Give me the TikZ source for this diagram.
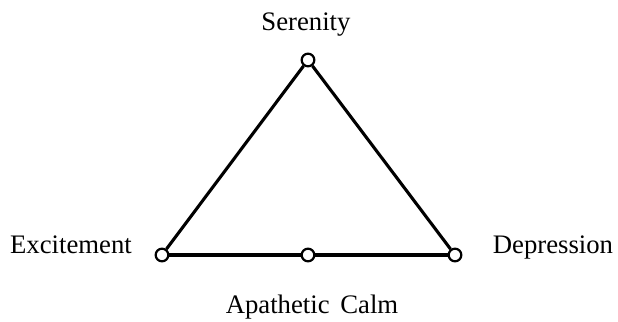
\documentclass[tikz,border=0pt]{standalone}
\usepackage{fontspec}
\setmainfont{Liberation Serif}
\usepackage{tikz}
\tikzset{
  vertex/.style={circle, draw, line width=1.6pt, fill=white, inner sep=0pt, minimum size=9pt},
  edge/.style={line width=2.2pt},
  mood/.style={anchor=base, inner sep=0pt, font=\fontsize{19}{22}\selectfont}
}

\begin{document}
\begin{tikzpicture}[x=0.025cm, y=-0.025cm]
\useasboundingbox (0,0) rectangle (618,322);

\node[vertex] (ser) at (308,60) {};
\node[vertex] (exc) at (162,255) {};
\node[vertex] (cal) at (308,255) {};
\node[vertex] (dep) at (455,255) {};

\draw[edge] (ser) -- (exc);
\draw[edge] (ser) -- (dep);
\draw[edge] (exc) -- (cal);
\draw[edge] (cal) -- (dep);

\node[mood] (serlab) at (306,30) {Serenity};
\node[mood] (exclab) at (71,253) {Excitement};
\node[mood] (deplab) at (553,253) {Depression};
\node[mood] (callab) at (312,313) {Apathetic\hspace{0.4em}Calm};

\end{tikzpicture}
\end{document}
